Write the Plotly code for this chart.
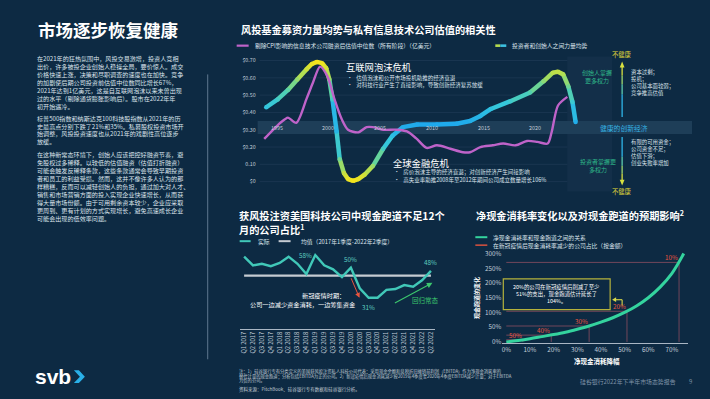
import plotly.graph_objects as go

W, H = 710, 399
BG = '#0d2a43'
FONT = 'Noto Sans CJK SC, Noto Sans, sans-serif'
WHITE = '#ffffff'
TXT = '#dce4ec'
MUTED = '#c3ceda'
PURPLE = '#bf63c9'
TEAL = '#41c8b8'
MINT = '#34d39e'
RED = '#e8553f'
YELLOW = '#e3dc3a'
GREENTXT = '#2fb98a'
CYANTXT = '#36b4e6'

# ---------------- data ----------------
# Top chart: CPI-adjusted post-money valuation median of IT companies (all stages)
valuation_years = [1993.8, 1995.0, 1995.8, 1996.1, 1996.9, 1997.9, 1998.5, 1999.2, 1999.9, 2000.6,
                   2001.3, 2001.9, 2002.9, 2003.7, 2004.3, 2005.3, 2006.6, 2007.6, 2008.5, 2009.5,
                   2010.5, 2011.8, 2013.0, 2013.7, 2014.7, 2015.9, 2016.9, 2018.1, 2019.2, 2020.2,
                   2021.2, 2021.6, 2022.2, 2023.1]
valuation_values = [0.247, 0.32, 0.36, 0.37, 0.34, 0.48, 0.57, 0.665, 0.61, 0.475,
                    0.36, 0.30, 0.285, 0.315, 0.315, 0.30, 0.30, 0.29, 0.25, 0.195,
                    0.21, 0.19, 0.17, 0.17, 0.20, 0.21, 0.22, 0.21, 0.235, 0.23,
                    0.22, 0.29, 0.44, 0.49]
# Top chart: balance of power between investors and founders
balance_years = [1994.0, 1995.1, 1996.1, 1997.0, 1997.9, 1998.4, 1998.9, 1999.4, 1999.8, 2000.1,
                 2000.4, 2000.8, 2001.1, 2001.5, 2001.9, 2002.4, 2002.9, 2003.5, 2004.3, 2005.3,
                 2006.2, 2007.2, 2008.6, 2010.5, 2012.4, 2013.7, 2014.7, 2015.7, 2017.6, 2019.5,
                 2020.8, 2021.7, 2022.2, 2022.7, 2023.2, 2023.6, 2023.9]
balance_values = [0.43, 0.475, 0.53, 0.59, 0.65, 0.68, 0.692, 0.685, 0.655, 0.59,
                  0.475, 0.29, 0.13, 0.05, 0.015, 0.005, 0.015, 0.04, 0.09, 0.19,
                  0.265, 0.315, 0.33, 0.33, 0.335, 0.35, 0.38, 0.42, 0.465, 0.515,
                  0.58, 0.63, 0.635, 0.62, 0.55, 0.46, 0.345]
year_ticks = [1995, 2000, 2005, 2010, 2015, 2020]
top_y_ticks = [0, 0.1, 0.2, 0.3, 0.4, 0.5, 0.6, 0.7]
top_y_labels = ['$0', '0.10', '$0.20', '$0.30', '$0.40', '$0.50', '$0.60', '$0.70']
healthy_level = 0.33

# Bottom-left: share of VC-backed US tech companies with < 12 months runway (%)
quarters = ['Q1 2017', 'Q2 2017', 'Q3 2017', 'Q4 2017', 'Q1 2018', 'Q2 2018', 'Q3 2018', 'Q4 2018',
            'Q1 2019', 'Q2 2019', 'Q3 2019', 'Q4 2019', 'Q1 2020', 'Q2 2020', 'Q3 2020', 'Q4 2020',
            'Q1 2021', 'Q2 2021', 'Q3 2021', 'Q4 2021', 'Q1 2022', 'Q2 2022']
runway_actual = [57, 51.5, 52.5, 51, 53, 57, 52.5, 46, 58, 51.5, 49, 44, 50, 37, 31, 31,
                 36, 36.5, 39, 38, 42, 48]
runway_mean = 45
runway_callouts = [('Q1 2019', 58, '58%'), ('Q1 2020', 50, '50%'), ('Q3 2020', 31, '31%'), ('Q2 2022', 48, '48%')]

# Bottom-right: net burn reduction vs change in runway (%)
burn_reduction = [0, 5, 10, 15, 20, 25, 30, 35, 40, 45, 50, 55, 60, 65, 70, 75]
runway_change = [0, 5, 11, 18, 25, 33, 43, 54, 67, 82, 100, 122, 150, 186, 233, 300]
bucket_share = ['50%', '40%', '30%', '20%', '10%']
bucket_reduction = [7, 19, 35, 51, 73]
bucket_runway = [7.5, 23, 54, 104, 270]
burn_x_ticks = [0, 10, 20, 30, 40, 50, 60, 70]
burn_y_ticks = [0, 50, 100, 150, 200, 250, 300]


def px(x):
    return x / W


def py(y):
    return 1 - y / H


STOPS = [(0.0, (31, 169, 236)), (0.3, (51, 198, 222)), (0.55, (88, 210, 168)),
         (0.78, (169, 222, 90)), (1.0, (244, 228, 28))]


def grad_color(d):
    d = max(0.0, min(1.0, d))
    for (t0, c0), (t1, c1) in zip(STOPS, STOPS[1:]):
        if d <= t1:
            f = (d - t0) / (t1 - t0)
            return 'rgb(%d,%d,%d)' % tuple(round(a + (b - a) * f) for a, b in zip(c0, c1))
    return 'rgb(244,228,28)'


def balance_dist(v):
    return (v - healthy_level) / 0.36 if v >= healthy_level else (healthy_level - v) / 0.325


fig = go.Figure()

# ---- top chart traces ----
for i in range(len(balance_years) - 1):
    d = balance_dist((balance_values[i] + balance_values[i + 1]) / 2)
    fig.add_trace(go.Scatter(x=balance_years[i:i + 2], y=balance_values[i:i + 2], mode='lines',
                             line=dict(color=grad_color(d), width=4.5), xaxis='x', yaxis='y',
                             hoverinfo='skip', showlegend=False))
fig.add_trace(go.Scatter(x=balance_years, y=balance_values, mode='markers',
                         marker=dict(size=4.5, line=dict(width=0),
                                     color=[grad_color(balance_dist(v)) for v in balance_values]),
                         xaxis='x', yaxis='y', hoverinfo='skip', showlegend=False))
fig.add_trace(go.Scatter(x=valuation_years, y=valuation_values, mode='lines',
                         line=dict(color=PURPLE, width=2.4, shape='spline', smoothing=0.8),
                         xaxis='x', yaxis='y', showlegend=False))

# ---- bottom-left traces ----
fig.add_trace(go.Scatter(x=quarters, y=[runway_mean] * len(quarters), mode='lines',
                         line=dict(color='#c5cbd2', width=2.4), xaxis='x2', yaxis='y2', showlegend=False))
fig.add_trace(go.Scatter(x=quarters, y=runway_actual, mode='lines',
                         line=dict(color=TEAL, width=2.4), xaxis='x2', yaxis='y2', showlegend=False))

# ---- bottom-right traces ----
for r, v in zip(bucket_reduction, bucket_runway):
    fig.add_trace(go.Scatter(x=[0, r, r], y=[v, v, 0], mode='lines',
                             line=dict(color='#7e4a5e', width=0.9), xaxis='x3', yaxis='y3',
                             hoverinfo='skip', showlegend=False))
fig.add_trace(go.Scatter(x=burn_reduction, y=runway_change, mode='lines',
                         line=dict(color=MINT, width=3, shape='spline'), xaxis='x3', yaxis='y3',
                         showlegend=False))

# ---------------- axes ----------------
TOP_X0, TOP_X1 = 259, 612
YEAR_PX0, YEAR_PX_PER = 276, 10.36
TOP_Y0, TOP_Y1 = 186, 56
ZERO_PY, PX_PER_UNIT = 183, 174.3

fig.update_layout(
    xaxis=dict(domain=[px(TOP_X0), px(TOP_X1)], anchor='y', visible=False,
               range=[1995 + (TOP_X0 - YEAR_PX0) / YEAR_PX_PER, 1995 + (TOP_X1 - YEAR_PX0) / YEAR_PX_PER]),
    yaxis=dict(domain=[py(TOP_Y0), py(TOP_Y1)], anchor='x',
               range=[(ZERO_PY - TOP_Y0) / PX_PER_UNIT, (ZERO_PY - TOP_Y1) / PX_PER_UNIT],
               tickvals=top_y_ticks, ticktext=top_y_labels, showgrid=False, zeroline=False,
               showline=False, ticks='', ticklabelstandoff=3,
               tickfont=dict(size=5.3, color=MUTED, family=FONT)),
    xaxis2=dict(domain=[px(239), px(435)], anchor='y2', type='category', range=[-0.5, 21.5],
                tickangle=-90, showgrid=False, zeroline=False, showline=True, linecolor='#a9b6c4',
                linewidth=1, ticks='', tickfont=dict(size=5.8, color=MUTED, family=FONT)),
    yaxis2=dict(domain=[py(331), py(250)], anchor='x2', range=[11.5, 62.4], visible=False),
    xaxis3=dict(domain=[px(502), px(688)], anchor='y3', range=[-1.69, 76.8],
                tickvals=burn_x_ticks, ticktext=['%d%%' % t for t in burn_x_ticks],
                showgrid=False, zeroline=False, showline=True, linecolor='#a9b6c4', linewidth=1,
                ticks='', tickfont=dict(size=6.3, color=MUTED, family=FONT)),
    yaxis3=dict(domain=[py(346), py(250)], anchor='x3', range=[-5.06, 318.5],
                tickvals=burn_y_ticks, ticktext=['%d%%' % t for t in burn_y_ticks],
                showgrid=False, zeroline=False, showline=False, ticks='',
                tickfont=dict(size=6.3, color=MUTED, family=FONT)),
)

# ---------------- shapes ----------------
shapes = []


def pline(x0, y0, x1, y1, color, width=1):
    shapes.append(dict(type='line', xref='paper', yref='paper', x0=px(x0), y0=py(y0), x1=px(x1), y1=py(y1),
                       line=dict(color=color, width=width)))


def ppath(points, color):
    d = 'M ' + ' L '.join('%.5f,%.5f' % (px(a), py(b)) for a, b in points) + ' Z'
    shapes.append(dict(type='path', xref='paper', yref='paper', path=d, fillcolor=color,
                       line=dict(width=0)))


# gridlines of top chart
for v in top_y_ticks:
    shapes.append(dict(type='line', xref='paper', yref='y', x0=px(TOP_X0), x1=px(TOP_X1), y0=v, y1=v,
                       line=dict(color='#1f3b56', width=0.7), layer='below'))
# dark side panel and healthy band
shapes.append(dict(type='rect', xref='paper', yref='paper', x0=px(567), x1=px(612), y0=py(193), y1=py(57),
                   fillcolor='#132f49', line=dict(width=0), layer='below'))
shapes.append(dict(type='rect', xref='paper', yref='paper', x0=px(257), x1=px(692), y0=py(135), y1=py(122),
                   fillcolor='#1e3e58', line=dict(width=0), layer='below'))
# left separator
pline(207, 75, 207, 362, '#5f7890', 1)
# legends
pline(236, 46, 248, 46, PURPLE, 2.2)
pline(495, 46, 500, 46, '#b5dc50', 2.6)
pline(500, 46, 506, 46, '#3cc0e0', 2.6)
pline(239, 243, 250, 243, TEAL, 2)
pline(278, 243, 290, 243, '#c5cbd2', 2)
pline(475, 239, 487, 239, MINT, 2)
pline(475, 247, 487, 247, RED, 1.4)
# right-side arrows
for (a, b, c) in [(118, 95, '#2fb5e8'), (95, 85, '#5ccbb0'), (85, 76, '#9fd870'), (76, 67, '#d8e040')]:
    pline(622, a, 622, b, c, 1.3)
ppath([(622, 62), (619.6, 68), (624.4, 68)], '#d8e040')
for (a, b, c) in [(138, 158, '#2fb5e8'), (158, 167, '#5ccbb0'), (167, 175, '#9fd870'), (175, 182, '#d8e040')]:
    pline(622, a, 622, b, c, 1.3)
ppath([(622, 187), (619.6, 181), (624.4, 181)], '#d8e040')
# callout box in burn chart
shapes.append(dict(type='rect', xref='paper', yref='paper', x0=px(503), x1=px(610), y0=py(312), y1=py(281),
                   line=dict(color='#b5b23c', width=1.2), fillcolor='rgba(0,0,0,0)'))
pline(622, 308, 622, 302, '#d8d84a', 1.1)
pline(622, 302, 615, 302, '#d8d84a', 1.1)
ppath([(612, 302), (616, 299.6), (616, 304.4)], '#d8d84a')
# svb chevron
ppath([(73, 373), (78, 373), (84, 379.5), (78, 386), (73, 386), (79, 379.5)], '#2ab0e8')

fig.update_layout(shapes=shapes)

# ---------------- annotations ----------------
ann = []


def txt(x, y, s, size, color=TXT, anchor='left', bold=False, **kw):
    if bold:
        s = '<b>' + s + '</b>'
    d = dict(x=px(x), y=py(y), xref='paper', yref='paper', text=s, showarrow=False,
             xanchor=anchor, yanchor='middle', font=dict(size=size, color=color, family=FONT))
    d.update(kw)
    ann.append(d)


# left panel
txt(35, 30, '市场逐步恢复健康', 17.5, WHITE, bold=True)
para1 = ['在2021年的狂热氛围中，风投交易激增，投资人竞相',
         '出价，许多被投企业创始人稳操全局，要价惊人。成交',
         '价格快速上涨，决策和尽职调查的速度也在加快。竞争',
         '的加剧使后期公司投资前估值中位数同比增长67%，',
         '2021年达到1亿美元，这是自互联网泡沫以来未曾出现',
         '过的水平（剔除通货膨胀影响后）。股市在2022年年',
         '初开始遇冷。']
para2 = ['标普500指数和纳斯达克100科技股指数从2021年的历',
         '史最高点分别下跌了21%和35%。私募股权投资市场开',
         '始调整，风投投资速度也从2021年的戏剧性高位逐步',
         '放缓。']
para3 = ['在这种新常态环境下，创始人应该把控好融资节奏，避',
         '免股权过多稀释。以较低的估值融资（估值打折融资）',
         '可能会触发反稀释条款，这些条款通常会导致早期投资',
         '者和员工的利益受损。然而，这并不像许多人认为的那',
         '样糟糕，反而可以减轻创始人的负担，通过加大对人才、',
         '销售和市场营销方面的投入实现企业快速增长，从而获',
         '得大量市场份额。由于可用剩余资本较少，企业应采取',
         '更周到、更有计划的方式实现增长，避免高速成长企业',
         '可能会出现的低效率问题。']
for start, para in [(59, para1), (119, para2), (155.7, para3)]:
    for i, line in enumerate(para):
        txt(35, start + 8 * i, line, 6.1, TXT, borderpad=0)
txt(32, 379, '<b>svb</b>', 21, WHITE, font_family='Liberation Sans')

# top chart
txt(238, 30, '风投基金募资力量均势与私有信息技术公司估值的相关性', 10.2, WHITE, bold=True)
txt(252, 46, '剔除CPI影响的信息技术公司融资后估值中位数（所有阶段）（亿美元）', 5.8, TXT)
txt(510, 46, '投资者和创始人之间力量均势', 5.8, TXT)
for yr in year_ticks:
    ann.append(dict(x=yr, y=py(129), xref='x', yref='paper', text=str(yr), showarrow=False,
                    xanchor='center', yanchor='middle', font=dict(size=5.4, color=MUTED, family=FONT)))
txt(344, 68, '互联网泡沫危机', 9.3, WHITE, borderpad=0)
txt(345, 78.3, '•   估值泡沫和公开市场投机助推的经济衰退', 5.5, TXT, borderpad=0)
txt(345, 85.3, '•   对科技行业产生了直接影响，导致创新经济复苏放缓', 5.5, TXT, borderpad=0)
txt(392, 164.5, '全球金融危机', 9.3, WHITE, borderpad=0)
txt(393, 173.7, '•   房价泡沫主导的经济衰退；对创新经济产生间接影响', 5.5, TXT, borderpad=0)
txt(393, 181.2, '•   高失业率助推2008年至2012年期间公司成立数量增长106%', 5.5, TXT, borderpad=0)
txt(622, 55, '不健康', 6.3, YELLOW, anchor='center')
txt(622, 193, '不健康', 6.3, YELLOW, anchor='center')
txt(597, 73, '创始人掌握', 6, GREENTXT, anchor='center', borderpad=0)
txt(597, 81, '更多权力', 6, GREENTXT, anchor='center', borderpad=0)
txt(598, 163, '投资者掌握更', 6, GREENTXT, anchor='center', borderpad=0)
txt(598, 170.5, '多权力', 6, GREENTXT, anchor='center', borderpad=0)
txt(598, 128.5, '健康的创新经济', 6.8, CYANTXT)
for i, s in enumerate(['资本过剩；', '投机；', '公司基本面较弱；', '竞争推高估值']):
    txt(630, 73 + 7 * i, s, 5.4, TXT, borderpad=0)
for i, s in enumerate(['有限的可用资金；', '公司资金不足；', '估值下滑；', '创业失败率增加']):
    txt(630, 143 + 7 * i, s, 5.4, TXT, borderpad=0)

# bottom-left chart
txt(237, 217, '获风投注资美国科技公司中现金跑道不足12个', 10.2, WHITE, bold=True, borderpad=0)
txt(237, 231, '月的公司占比<sup>1</sup>', 10.2, WHITE, bold=True, borderpad=0)
txt(255, 243, '实际', 5.8, TXT)
txt(298, 243, '均值（2017年1季度-2022年2季度）', 5.8, TXT)
for q, v, lab in runway_callouts:
    d = dict(x=q, y=v, xref='x2', yref='y2', text=lab, showarrow=False,
             font=dict(size=6.3, color='#5fd0c2', family=FONT), xanchor='center', yanchor='middle')
    if lab == '58%':
        d.update(xanchor='right', xshift=-1)
    elif lab == '31%':
        d.update(yshift=-10)
    else:
        d.update(yshift=8)
    ann.append(d)
txt(345, 298, '新冠疫情时期：', 6.2, WHITE, anchor='right', borderpad=0)
txt(357, 307, '公司一边减少资金消耗，一边筹集资金', 6.2, WHITE, anchor='right', borderpad=0)
ann.append(dict(x=px(359), y=py(300), xref='paper', yref='paper', text='', showarrow=True,
                ax=-9, ay=-21, arrowcolor=RED, arrowwidth=1, arrowhead=2, arrowsize=1))
ann.append(dict(x=px(432), y=py(285), xref='paper', yref='paper', text='', showarrow=True,
                ax=-39, ay=21, arrowcolor='#3cc86e', arrowwidth=1.1, arrowhead=2, arrowsize=1))
txt(425, 302, '回归常态', 6.5, '#3cc86e', anchor='center')

# bottom-right chart
txt(474, 217, '净现金消耗率变化以及对现金跑道的预期影响<sup>2</sup>', 10.2, WHITE, bold=True)
txt(492, 239, '净现金消耗率和现金跑道之间的关系', 5.8, TXT, borderpad=0)
txt(492, 247, '在新冠疫情后现金消耗率减少的公司占比（按金额）', 5.8, TXT, borderpad=0)
for s, r, v in zip(bucket_share, bucket_reduction, bucket_runway):
    ann.append(dict(x=r, y=v, xref='x3', yref='y3', text=s, showarrow=False, xanchor='right',
                    yanchor='bottom', xshift=1, yshift=-2, font=dict(size=6.3, color=RED, family=FONT)))
for i, s in enumerate(['20%的公司在新冠疫情后削减了至少', '51%的支出，现金跑道估计延长了', '104%。']):
    txt(556, 289.5 + 6.8 * i, s, 5.4, WHITE, anchor='center', borderpad=0)
txt(476, 300, '<b>现金跑道的变化</b>', 6, WHITE, anchor='center', textangle=-90)
txt(597, 364, '净现金消耗降幅', 6.5, WHITE, anchor='center', bold=True)

# footer
notes = ['注：1）硅谷银行专有分类定义的美国获风投注资私人科技公司代表；采用现金余额和息税折旧摊销前利润（EBITDA）作为净现金消耗率的',
         '替代计量的现金跑道；分析包括EBITDA为正的公司。2）新冠疫情后现金消耗减少按2019年4季度至2020年4季度EBITDA减少计量；对于EBITDA',
         '为负的公司。']
for i, s in enumerate(notes):
    txt(237, 374.5 + 4.6 * i, s, 4.3, '#c0cad4', borderpad=0)
txt(237, 392, '资料来源：PitchBook、硅谷银行专有数据和硅谷银行分析。', 4.5, '#c0cad4', borderpad=0)
txt(578, 384, '硅谷银行2022年下半年市场态势报告', 5.9, '#7f93a8')
txt(690, 384, '9', 5.9, '#7f93a8', anchor='center')

fig.update_layout(annotations=ann, width=W, height=H, autosize=False,
                  margin=dict(l=0, r=0, t=0, b=0), paper_bgcolor=BG, plot_bgcolor='rgba(0,0,0,0)',
                  showlegend=False, font=dict(family=FONT, color=TXT))

fig.write_html('out.html', config={'displayModeBar': False},
               post_script="document.body.style.margin='0';document.body.style.background='" + BG + "';")
